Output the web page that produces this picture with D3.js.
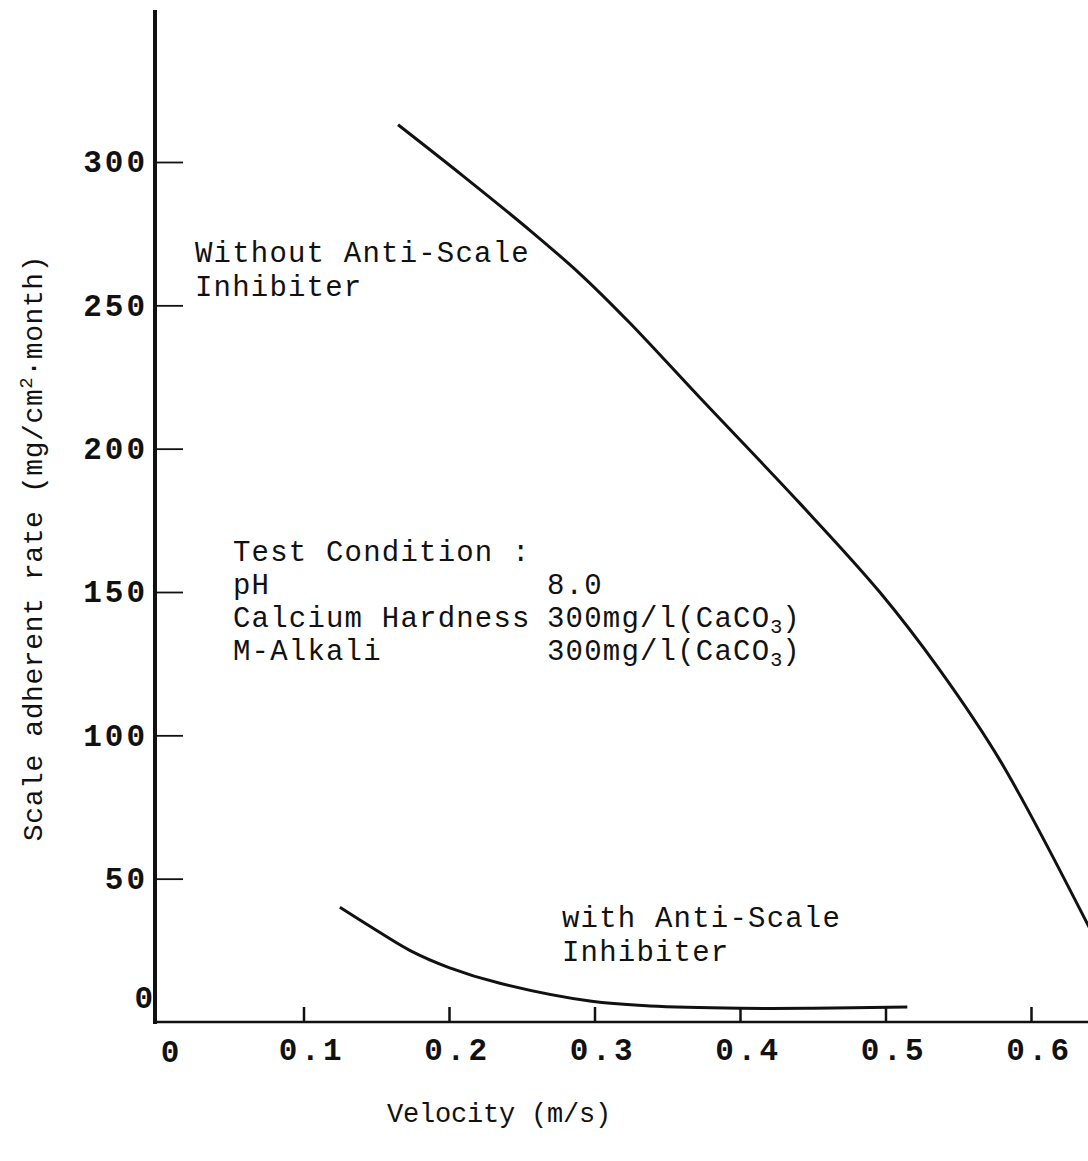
<!DOCTYPE html>
<html>
<head>
<meta charset="utf-8">
<script src="https://cdn.jsdelivr.net/npm/d3@7"></script>
<style>
  body { margin: 0; background: #fff; }
  svg { display: block; }
  text { font-family: "Liberation Mono", "Courier New", monospace; fill: #111; }
</style>
</head>
<body>
<svg width="1088" height="1161"></svg>
<script>
// values
const xTicks = [0.1, 0.2, 0.3, 0.4, 0.5, 0.6];
const yTicks = [50, 100, 150, 200, 250, 300];
const withoutVel = [0.165, 0.210, 0.256, 0.290, 0.324, 0.372, 0.441, 0.496, 0.537, 0.579, 0.640];
const withoutRate = [313, 295, 276, 261, 244, 218, 181, 150, 123, 91, 33];
const withVel = [0.125, 0.150, 0.173, 0.200, 0.235, 0.298, 0.338, 0.400, 0.450, 0.515];
const withRate = [40, 32, 25, 19, 13.5, 7.2, 5.6, 4.8, 4.8, 5.2];
const conditions = [
  ["pH", "8.0", null],
  ["Calcium Hardness", "300mg/l(CaCO", "3"],
  ["M-Alkali", "300mg/l(CaCO", "3"]
];

const svg = d3.select("svg");
const x0 = 158, y0 = 1022;

const x = d3.scaleLinear().domain([0, 0.6]).range([x0, 1031]);
const y = d3.scaleLinear().domain([0, 300]).range([y0, 162]);

const line = d3.line()
  .x(d => x(d[0]))
  .y(d => y(d[1]))
  .curve(d3.curveCatmullRom.alpha(0.5));

// axes
const xAxis = d3.axisBottom(x).tickValues(xTicks).tickSizeInner(-15).tickSizeOuter(0).tickPadding(16)
  .tickFormat(d3.format(".1f"));
const yAxis = d3.axisLeft(y).tickValues(yTicks).tickSizeInner(-28).tickSizeOuter(0).tickPadding(7)
  .tickFormat(d3.format("d"));

const gx = svg.append("g").attr("transform", `translate(0, ${y0})`).call(xAxis);
gx.select(".domain").remove();
gx.selectAll(".tick line").attr("stroke", "#111").attr("stroke-width", 2.5);
gx.selectAll(".tick text")
  .attr("dx", 8)
  .style("font-size", "31px").style("font-weight", "bold").style("letter-spacing", "3.5px")
  .style("font-family", "Liberation Mono");

const gy = svg.append("g").attr("transform", `translate(${x0 - 3}, 0)`).call(yAxis);
gy.select(".domain").remove();
gy.selectAll(".tick line").attr("stroke", "#111").attr("stroke-width", 1.8);
gy.selectAll(".tick text")
  .style("font-size", "31px").style("font-weight", "bold").style("letter-spacing", "3px")
  .style("font-family", "Liberation Mono");

// axis lines
svg.append("line")
  .attr("x1", x0 - 3).attr("x2", x0 - 3)
  .attr("y1", y(353)).attr("y2", y0 + 2)
  .attr("stroke", "#111").attr("stroke-width", 4);
svg.append("line")
  .attr("x1", x0 - 3).attr("x2", 1088)
  .attr("y1", y0).attr("y2", y0)
  .attr("stroke", "#111").attr("stroke-width", 2.5);

// zero labels
svg.append("text")
  .attr("x", x0 - 5).attr("y", y(0) - 14)
  .attr("text-anchor", "end")
  .style("font-size", "31px").style("font-weight", "bold")
  .text("0");
svg.append("text")
  .attr("x", x(0) + 12).attr("y", y(0) + 40)
  .attr("text-anchor", "middle")
  .style("font-size", "31px").style("font-weight", "bold")
  .text("0");

// curves
svg.append("path")
  .datum(d3.zip(withoutVel, withoutRate))
  .attr("d", line)
  .attr("fill", "none").attr("stroke", "#111").attr("stroke-width", 3);
svg.append("path")
  .datum(d3.zip(withVel, withRate))
  .attr("d", line)
  .attr("fill", "none").attr("stroke", "#111").attr("stroke-width", 3);

// annotations
const ann = svg.append("g").style("font-size", "29px").style("letter-spacing", "1.2px");
ann.append("text").attr("x", 195).attr("y", 262).text("Without Anti-Scale");
ann.append("text").attr("x", 195).attr("y", 296).text("Inhibiter");
ann.append("text").attr("x", 562).attr("y", 927).text("with Anti-Scale");
ann.append("text").attr("x", 562).attr("y", 961).text("Inhibiter");
ann.append("text").attr("x", 233).attr("y", 561).text("Test Condition :");

conditions.forEach((c, i) => {
  const yy = 594 + i * 33;
  ann.append("text").attr("x", 233).attr("y", yy).text(c[0]);
  const t = ann.append("text").attr("x", 547).attr("y", yy);
  t.append("tspan").text(c[1]);
  if (c[2]) {
    t.append("tspan").attr("dy", 6).style("font-size", "20px").style("letter-spacing", "0px").text(c[2]);
    t.append("tspan").attr("dy", -6).text(")");
  }
});

// axis titles
svg.append("text")
  .attr("x", 387).attr("y", 1122)
  .style("font-size", "27px").style("letter-spacing", "-0.2px")
  .text("Velocity (m/s)");

const yl = svg.append("text")
  .attr("transform", "translate(42, 548) rotate(-90)")
  .attr("text-anchor", "middle")
  .style("font-size", "28px").style("letter-spacing", "0.6px");
yl.append("tspan").text("Scale adherent rate (mg/cm");
yl.append("tspan").attr("dy", -10).style("font-size", "19px").text("2");
yl.append("tspan").attr("dy", 10).text("·month)");
</script>
</body>
</html>
